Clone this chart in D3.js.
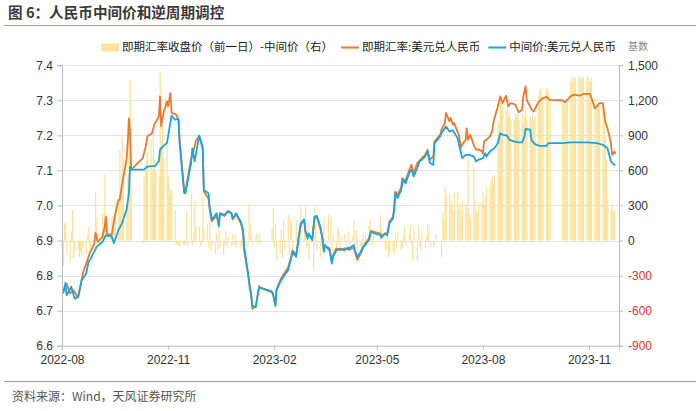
<!DOCTYPE html>
<html>
<head>
<meta charset="utf-8">
<script src="https://cdn.jsdelivr.net/npm/d3@7"></script>
<style>
  body { margin: 0; background: #fff; }
  svg { display: block; }
</style>
</head>
<body>
<svg id="chart" width="700" height="411"></svg>
<script>
(function () {
  'use strict';

  // spot close (previous day) minus fixing, pips, one row per week (Mon..Fri)
  var spreadWeeks = [
    ["2022-08-01", [-60, -220, 140, 160, -120]],
    ["2022-08-08", [-180, 80, 260, -150, -90]],
    ["2022-08-15", [-80, -140, -100, -130, -60]],
    ["2022-08-22", [-110, 40, 117, -100, -60]],
    ["2022-08-29", [30, 417, 200, 60, -40]],
    ["2022-09-05", [230, 120, 560, 110, 40]],
    ["2022-09-12", [60, 200, 210, 120, 340]],
    ["2022-09-19", [345, 775, 480, 890, 700]],
    ["2022-09-26", [330, 560, 1045, 1374, 480]],
    ["2022-10-10", [-30, 545, 600, 690, 760]],
    ["2022-10-17", [860, 600, 945, 690, 600]],
    ["2022-10-24", [545, 1445, 830, 975, 700]],
    ["2022-10-31", [830, 545, 460, 400, 430]],
    ["2022-11-07", [260, -30, -45, -35, -50]],
    ["2022-11-14", [-40, -30, -45, 260, -50]],
    ["2022-11-21", [400, -40, 60, 345, 120]],
    ["2022-11-28", [115, -50, -30, 380, 100]],
    ["2022-12-05", [140, -60, 230, -90, -40]],
    ["2022-12-12", [-110, 60, -80, 120, -60]],
    ["2022-12-19", [-120, -40, 80, -60, 30]],
    ["2022-12-26", [-50, 60, -40, 50, -60]],
    ["2023-01-02", [null, -70, -50, -80, 40]],
    ["2023-01-09", [-60, 320, 150, 60, -30]],
    ["2023-01-16", [40, 60, -30, 50, -20]],
    ["2023-01-30", [100, 275, -60, 150, -170]],
    ["2023-02-06", [-110, 90, -150, 175, -80]],
    ["2023-02-13", [220, -120, 180, 120, -140]],
    ["2023-02-20", [175, -90, 40, -120, 290]],
    ["2023-02-27", [180, 290, -60, 140, -170]],
    ["2023-03-06", [120, -255, 290, 200, -80]],
    ["2023-03-13", [-140, 90, -60, 200, -100]],
    ["2023-03-20", [220, -40, 200, -90, 60]],
    ["2023-03-27", [-60, 110, 80, -70, 40]],
    ["2023-04-03", [60, -40, null, 80, -30]],
    ["2023-04-10", [40, 175, -60, 90, -80]],
    ["2023-04-17", [-50, -90, 60, -30, 40]],
    ["2023-04-24", [130, 175, 60, -40, 90]],
    ["2023-05-01", [null, null, null, 215, 90]],
    ["2023-05-08", [-70, -90, 40, -140, -110]],
    ["2023-05-15", [-80, -120, 60, -60, 75]],
    ["2023-05-22", [-80, -60, 40, 120, -40]],
    ["2023-05-29", [60, 145, -30, -170, 100]],
    ["2023-06-05", [-170, 130, -60, -80, 60]],
    ["2023-06-12", [-70, 40, 145, 80, -60]],
    ["2023-06-19", [-60, -40, 60, null, null]],
    ["2023-06-26", [-140, 230, 170, 460, 400]],
    ["2023-07-03", [400, 300, 345, 260, 420]],
    ["2023-07-10", [420, 260, 300, 200, 340]],
    ["2023-07-17", [310, 280, 715, 230, 200]],
    ["2023-07-24", [630, 345, 260, 240, 310]],
    ["2023-07-31", [330, 420, 300, 360, 460]],
    ["2023-08-07", [460, 520, 545, 480, 560]],
    ["2023-08-14", [1030, 1000, 1231, 1200, 1150]],
    ["2023-08-21", [1100, 1146, 1060, 1100, 1031]],
    ["2023-08-28", [1031, 1088, 1060, 1100, 1050]],
    ["2023-09-04", [1090, 1003, 1060, 1120, 1030]],
    ["2023-09-11", [1060, 1031, 1088, 1031, 1060]],
    ["2023-09-18", [1231, 1280, 1303, 1250, 1231]],
    ["2023-09-25", [1303, 1290, 1260, 1231, null]],
    ["2023-10-09", [1174, 1160, 1190, 1174, 1200]],
    ["2023-10-16", [1360, 1380, 1400, 1370, 1390]],
    ["2023-10-23", [1403, 1390, 1400, 1380, 1400]],
    ["2023-10-30", [1390, 1403, 1380, 1360, 1390]],
    ["2023-11-06", [1188, 1170, 1160, 1180, 1175]],
    ["2023-11-13", [1160, 1020, 890, 690, 345]],
    ["2023-11-20", [260, 300, 240, 260, null]]
  ];

  // 即期汇率 (spot)
  var spot = [
    ["2022-08-02", 6.753], ["2022-08-05", 6.777], ["2022-08-08", 6.749], ["2022-08-11", 6.758],
    ["2022-08-15", 6.737], ["2022-08-17", 6.768], ["2022-08-19", 6.806], ["2022-08-22", 6.834],
    ["2022-08-25", 6.863], ["2022-08-29", 6.891], ["2022-08-30", 6.922], ["2022-09-01", 6.896],
    ["2022-09-05", 6.910], ["2022-09-07", 6.939], ["2022-09-08", 6.968], ["2022-09-09", 6.920],
    ["2022-09-13", 6.915], ["2022-09-16", 6.972], ["2022-09-19", 7.016], ["2022-09-20", 7.016],
    ["2022-09-23", 7.078], ["2022-09-26", 7.131], ["2022-09-27", 7.178], ["2022-09-28", 7.248],
    ["2022-09-29", 7.208], ["2022-09-30", 7.102], ["2022-10-10", 7.135], ["2022-10-13", 7.173],
    ["2022-10-14", 7.197], ["2022-10-18", 7.206], ["2022-10-20", 7.230], ["2022-10-24", 7.254],
    ["2022-10-25", 7.311], ["2022-10-26", 7.226], ["2022-10-28", 7.264], ["2022-10-31", 7.297],
    ["2022-11-01", 7.283], ["2022-11-03", 7.320], ["2022-11-04", 7.264], ["2022-11-08", 7.259],
    ["2022-11-10", 7.245], ["2022-11-11", 7.188], ["2022-11-15", 7.040], ["2022-11-16", 7.040],
    ["2022-11-21", 7.135], ["2022-11-23", 7.154], ["2022-11-25", 7.183], ["2022-11-28", 7.199],
    ["2022-12-01", 7.160], ["2022-12-02", 7.040], ["2022-12-06", 7.020], ["2022-12-07", 6.990],
    ["2022-12-09", 6.955], ["2022-12-13", 6.970], ["2022-12-15", 6.950], ["2022-12-16", 6.975],
    ["2022-12-20", 6.970], ["2022-12-23", 6.985], ["2022-12-26", 6.975], ["2022-12-27", 6.960],
    ["2022-12-30", 6.975], ["2023-01-03", 6.950], ["2023-01-05", 6.925], ["2023-01-06", 6.870],
    ["2023-01-09", 6.810], ["2023-01-11", 6.760], ["2023-01-12", 6.745], ["2023-01-13", 6.705],
    ["2023-01-16", 6.712], ["2023-01-18", 6.752], ["2023-01-19", 6.770], ["2023-01-20", 6.766],
    ["2023-01-30", 6.755], ["2023-01-31", 6.745], ["2023-02-02", 6.718], ["2023-02-03", 6.760],
    ["2023-02-07", 6.792], ["2023-02-10", 6.808], ["2023-02-13", 6.822], ["2023-02-16", 6.858],
    ["2023-02-17", 6.872], ["2023-02-20", 6.858], ["2023-02-22", 6.905], ["2023-02-24", 6.945],
    ["2023-02-27", 6.958], ["2023-02-28", 6.925], ["2023-03-02", 6.910], ["2023-03-03", 6.915],
    ["2023-03-06", 6.905], ["2023-03-08", 6.965], ["2023-03-10", 6.968], ["2023-03-13", 6.935],
    ["2023-03-15", 6.905], ["2023-03-16", 6.872], ["2023-03-17", 6.885], ["2023-03-21", 6.878],
    ["2023-03-23", 6.840], ["2023-03-24", 6.858], ["2023-03-27", 6.878], ["2023-03-30", 6.872],
    ["2023-04-03", 6.878], ["2023-04-06", 6.875], ["2023-04-07", 6.873], ["2023-04-11", 6.880],
    ["2023-04-12", 6.868], ["2023-04-14", 6.845], ["2023-04-17", 6.862], ["2023-04-19", 6.878],
    ["2023-04-21", 6.892], ["2023-04-24", 6.905], ["2023-04-26", 6.928], ["2023-04-28", 6.925],
    ["2023-05-04", 6.920], ["2023-05-05", 6.912], ["2023-05-08", 6.920], ["2023-05-10", 6.920],
    ["2023-05-12", 6.955], ["2023-05-15", 6.968], ["2023-05-16", 6.990], ["2023-05-17", 7.040],
    ["2023-05-18", 7.035], ["2023-05-19", 7.030], ["2023-05-22", 7.050], ["2023-05-23", 7.078],
    ["2023-05-26", 7.070], ["2023-05-29", 7.100], ["2023-05-31", 7.116], ["2023-06-02", 7.090],
    ["2023-06-05", 7.121], ["2023-06-07", 7.128], ["2023-06-09", 7.135], ["2023-06-12", 7.145],
    ["2023-06-14", 7.159], ["2023-06-16", 7.130], ["2023-06-19", 7.140], ["2023-06-20", 7.183],
    ["2023-06-25", 7.202], ["2023-06-26", 7.216], ["2023-06-29", 7.235], ["2023-06-30", 7.264],
    ["2023-07-03", 7.240], ["2023-07-04", 7.250], ["2023-07-06", 7.230], ["2023-07-07", 7.235],
    ["2023-07-11", 7.202], ["2023-07-13", 7.166], ["2023-07-14", 7.173], ["2023-07-17", 7.187],
    ["2023-07-18", 7.220], ["2023-07-19", 7.187], ["2023-07-21", 7.202], ["2023-07-24", 7.173],
    ["2023-07-26", 7.159], ["2023-07-28", 7.160], ["2023-07-31", 7.155], ["2023-08-01", 7.148],
    ["2023-08-02", 7.183], ["2023-08-04", 7.187], ["2023-08-07", 7.197], ["2023-08-09", 7.211],
    ["2023-08-10", 7.235], ["2023-08-11", 7.249], ["2023-08-14", 7.283], ["2023-08-16", 7.311],
    ["2023-08-18", 7.292], ["2023-08-21", 7.313], ["2023-08-23", 7.283], ["2023-08-25", 7.292],
    ["2023-08-29", 7.288], ["2023-09-01", 7.266], ["2023-09-04", 7.273], ["2023-09-05", 7.311],
    ["2023-09-07", 7.340], ["2023-09-08", 7.301], ["2023-09-12", 7.275], ["2023-09-14", 7.268],
    ["2023-09-18", 7.294], ["2023-09-21", 7.304], ["2023-09-25", 7.310], ["2023-09-28", 7.301],
    ["2023-10-09", 7.300], ["2023-10-11", 7.294], ["2023-10-16", 7.311], ["2023-10-19", 7.316],
    ["2023-10-24", 7.313], ["2023-10-27", 7.318], ["2023-11-02", 7.318], ["2023-11-06", 7.277],
    ["2023-11-08", 7.283], ["2023-11-10", 7.292], ["2023-11-13", 7.292], ["2023-11-15", 7.240],
    ["2023-11-17", 7.220], ["2023-11-20", 7.178], ["2023-11-21", 7.144], ["2023-11-23", 7.154],
    ["2023-11-24", 7.147]
  ];

  // 中间价 (central parity)
  var mid = [
    ["2022-08-02", 6.749], ["2022-08-04", 6.779], ["2022-08-05", 6.744], ["2022-08-09", 6.768],
    ["2022-08-12", 6.734], ["2022-08-15", 6.741], ["2022-08-18", 6.787], ["2022-08-22", 6.806],
    ["2022-08-24", 6.839], ["2022-08-26", 6.849], ["2022-08-31", 6.882], ["2022-09-05", 6.896],
    ["2022-09-08", 6.915], ["2022-09-13", 6.912], ["2022-09-15", 6.893], ["2022-09-19", 6.930],
    ["2022-09-22", 6.949], ["2022-09-26", 6.988], ["2022-09-28", 7.035], ["2022-09-29", 7.111],
    ["2022-09-30", 7.102], ["2022-10-11", 7.102], ["2022-10-14", 7.111], ["2022-10-21", 7.113],
    ["2022-10-24", 7.126], ["2022-10-25", 7.159], ["2022-10-28", 7.170], ["2022-10-31", 7.178],
    ["2022-11-04", 7.256], ["2022-11-07", 7.245], ["2022-11-10", 7.247], ["2022-11-11", 7.178],
    ["2022-11-15", 7.035], ["2022-11-16", 7.035], ["2022-11-21", 7.121], ["2022-11-22", 7.163],
    ["2022-11-24", 7.126], ["2022-11-28", 7.199], ["2022-12-01", 7.168], ["2022-12-02", 7.044],
    ["2022-12-06", 7.035], ["2022-12-07", 6.997], ["2022-12-09", 6.959], ["2022-12-13", 6.978],
    ["2022-12-15", 6.940], ["2022-12-16", 6.978], ["2022-12-20", 6.973], ["2022-12-23", 6.983],
    ["2022-12-26", 6.978], ["2022-12-27", 6.963], ["2022-12-30", 6.978], ["2023-01-03", 6.954],
    ["2023-01-05", 6.930], ["2023-01-06", 6.882], ["2023-01-09", 6.815], ["2023-01-11", 6.768],
    ["2023-01-12", 6.749], ["2023-01-13", 6.715], ["2023-01-16", 6.710], ["2023-01-18", 6.749],
    ["2023-01-19", 6.768], ["2023-01-20", 6.765], ["2023-01-30", 6.753], ["2023-01-31", 6.749],
    ["2023-02-02", 6.713], ["2023-02-03", 6.758], ["2023-02-07", 6.787], ["2023-02-10", 6.801],
    ["2023-02-13", 6.815], ["2023-02-16", 6.853], ["2023-02-17", 6.868], ["2023-02-20", 6.853],
    ["2023-02-22", 6.901], ["2023-02-24", 6.949], ["2023-02-27", 6.960], ["2023-02-28", 6.930],
    ["2023-03-02", 6.906], ["2023-03-03", 6.920], ["2023-03-06", 6.901], ["2023-03-08", 6.968],
    ["2023-03-10", 6.970], ["2023-03-13", 6.940], ["2023-03-15", 6.901], ["2023-03-16", 6.868],
    ["2023-03-17", 6.887], ["2023-03-21", 6.872], ["2023-03-23", 6.834], ["2023-03-24", 6.853],
    ["2023-03-27", 6.872], ["2023-03-30", 6.877], ["2023-04-03", 6.872], ["2023-04-06", 6.880],
    ["2023-04-07", 6.877], ["2023-04-11", 6.887], ["2023-04-12", 6.872], ["2023-04-14", 6.853],
    ["2023-04-17", 6.868], ["2023-04-19", 6.882], ["2023-04-21", 6.887], ["2023-04-24", 6.901],
    ["2023-04-26", 6.925], ["2023-04-28", 6.922], ["2023-05-04", 6.915], ["2023-05-05", 6.908],
    ["2023-05-08", 6.920], ["2023-05-10", 6.915], ["2023-05-12", 6.949], ["2023-05-15", 6.963],
    ["2023-05-16", 6.987], ["2023-05-17", 7.035], ["2023-05-18", 7.030], ["2023-05-19", 7.021],
    ["2023-05-22", 7.044], ["2023-05-24", 7.073], ["2023-05-26", 7.063], ["2023-05-29", 7.092],
    ["2023-05-31", 7.102], ["2023-06-02", 7.083], ["2023-06-05", 7.106], ["2023-06-07", 7.125],
    ["2023-06-09", 7.130], ["2023-06-12", 7.140], ["2023-06-14", 7.154], ["2023-06-16", 7.121],
    ["2023-06-19", 7.116], ["2023-06-20", 7.178], ["2023-06-25", 7.197], ["2023-06-26", 7.206],
    ["2023-06-28", 7.216], ["2023-06-30", 7.225], ["2023-07-03", 7.211], ["2023-07-06", 7.214],
    ["2023-07-10", 7.192], ["2023-07-12", 7.163], ["2023-07-14", 7.135], ["2023-07-17", 7.144],
    ["2023-07-20", 7.144], ["2023-07-24", 7.140], ["2023-07-26", 7.126], ["2023-07-28", 7.130],
    ["2023-08-01", 7.135], ["2023-08-03", 7.149], ["2023-08-04", 7.140], ["2023-08-07", 7.154],
    ["2023-08-09", 7.159], ["2023-08-11", 7.163], ["2023-08-14", 7.178], ["2023-08-16", 7.206],
    ["2023-08-18", 7.202], ["2023-08-22", 7.199], ["2023-08-24", 7.187], ["2023-08-28", 7.183],
    ["2023-09-01", 7.180], ["2023-09-04", 7.180], ["2023-09-06", 7.197], ["2023-09-07", 7.218],
    ["2023-09-11", 7.216], ["2023-09-12", 7.187], ["2023-09-15", 7.175], ["2023-09-19", 7.170],
    ["2023-09-25", 7.170], ["2023-09-27", 7.178], ["2023-10-09", 7.178], ["2023-10-16", 7.180],
    ["2023-10-23", 7.180], ["2023-10-30", 7.180], ["2023-11-08", 7.178], ["2023-11-13", 7.173],
    ["2023-11-17", 7.163], ["2023-11-20", 7.126], ["2023-11-23", 7.116], ["2023-11-24", 7.116]
  ];

  var leftTicks = [6.6, 6.7, 6.8, 6.9, 7.0, 7.1, 7.2, 7.3, 7.4];
  var rightTicks = [-900, -600, -300, 0, 300, 600, 900, 1200, 1500];
  var monthTicks = ["2022-08-01", "2022-11-01", "2023-02-01", "2023-05-01", "2023-08-01", "2023-11-01"];
  var seriesNames = ["即期汇率收盘价（前一日）-中间价（右）", "即期汇率:美元兑人民币", "中间价:美元兑人民币"];

  var parse = d3.timeParse("%Y-%m-%d");
  var numFont = "'Liberation Sans', Arial, 'Noto Sans CJK SC', sans-serif";
  var cjkFont = "'Noto Sans CJK SC', 'Liberation Sans', sans-serif";
  var colors = { bar: "#FCE29A", spot: "#EB7A2E", mid: "#1AA5DE", accent: "#F08C3A" };

  var left = 62, right = 619, top = 65.2, bottom = 345.7;

  var svg = d3.select('#chart');

  var x = d3.scaleTime()
      .domain([parse("2022-08-01"), parse("2023-11-27")])
      .range([left, right]);
  var yL = d3.scaleLinear().domain([6.6, 7.4]).range([bottom, top]);
  var yR = d3.scaleLinear().domain([-900, 1500]).range([bottom, top]);

  // title + rules
  svg.append('text')
      .attr('x', 8).attr('y', 18)
      .style('font-family', cjkFont).style('font-size', '14.6px').style('font-weight', 'bold')
      .style('fill', '#3a3a3a')
      .text('图 6：人民币中间价和逆周期调控');
  svg.append('line').attr('x1', 4).attr('x2', 696).attr('y1', 25.5).attr('y2', 25.5)
      .style('stroke', colors.accent).style('stroke-width', 1.2);
  svg.append('line').attr('x1', 4).attr('x2', 696).attr('y1', 381.5).attr('y2', 381.5)
      .style('stroke', colors.accent).style('stroke-width', 1.2);
  svg.append('text')
      .attr('x', 12).attr('y', 401)
      .style('font-family', cjkFont).style('font-size', '12px').style('fill', '#555')
      .text('资料来源：Wind，天风证券研究所');

  // gridlines
  svg.append('g').selectAll('line')
      .data(leftTicks.slice(1))
      .enter().append('line')
      .attr('x1', left).attr('x2', right)
      .attr('y1', function (d) { return Math.round(yL(d)) + 0.5; })
      .attr('y2', function (d) { return Math.round(yL(d)) + 0.5; })
      .style('stroke', '#e3e3e3').style('stroke-width', 1);

  // bars: one per trading day
  var bars = [];
  spreadWeeks.forEach(function (w) {
    var monday = parse(w[0]);
    w[1].forEach(function (v, i) {
      if (v === null) return;
      bars.push({ date: d3.timeDay.offset(monday, i), value: v });
    });
  });

  svg.append('g').selectAll('rect')
      .data(bars)
      .enter().append('rect')
      .attr('x', function (d) { return x(d.date) - 0.4; })
      .attr('width', function (d) { return x(d3.timeDay.offset(d.date, 1)) - x(d.date) + 0.05; })
      .attr('y', function (d) { return Math.min(yR(d.value), yR(0)); })
      .attr('height', function (d) { return Math.abs(yR(d.value) - yR(0)); })
      .style('fill', colors.bar);

  // lines
  var line = d3.line()
      .x(function (d) { return x(parse(d[0])); })
      .y(function (d) { return yL(d[1]); });

  svg.append('path').datum(spot).attr('d', line)
      .style('fill', 'none').style('stroke', colors.spot).style('stroke-width', 1.8)
      .style('stroke-linejoin', 'round');
  svg.append('path').datum(mid).attr('d', line)
      .style('fill', 'none').style('stroke', colors.mid).style('stroke-width', 1.8)
      .style('stroke-linejoin', 'round');

  // axes
  function styleAxis(g) {
    g.select('.domain').style('stroke', '#bdbdbd');
    g.selectAll('.tick line').style('stroke', '#bdbdbd');
    g.selectAll('.tick text').style('font-family', numFont).style('font-size', '12px').style('fill', '#333');
  }

  svg.append('g')
      .attr('transform', 'translate(' + left + ',0)')
      .call(d3.axisLeft(yL).tickValues(leftTicks).tickFormat(d3.format('.1f')).tickSizeOuter(0).tickSize(5).tickPadding(4))
      .call(styleAxis);

  var rAxis = svg.append('g')
      .attr('transform', 'translate(' + right + ',0)')
      .call(d3.axisRight(yR).tickValues(rightTicks).tickFormat(d3.format(',')).tickSizeOuter(0).tickSize(4).tickPadding(5))
      .call(styleAxis);
  rAxis.selectAll('.tick text')
      .style('fill', function (d) { return d < 0 ? '#e8322b' : '#333'; })
      .text(function (d) { return d < 0 ? '-' + d3.format(',')(-d) : d3.format(',')(d); });

  svg.append('g')
      .attr('transform', 'translate(0,' + bottom + ')')
      .call(d3.axisBottom(x).tickValues(monthTicks.map(parse)).tickFormat(d3.timeFormat('%Y-%m')).tickSizeOuter(0).tickSize(4).tickPadding(6))
      .call(styleAxis);

  svg.append('text')
      .attr('x', 628).attr('y', 50)
      .style('font-family', cjkFont).style('font-size', '10px').style('fill', '#888')
      .text('基数');

  // legend, laid out right to left
  var legend = svg.append('g').attr('transform', 'translate(0,47)');
  var cursor = 616;
  var kinds = ['bar', 'spot', 'mid'];
  for (var i = seriesNames.length - 1; i >= 0; i--) {
    var t = legend.append('text')
        .attr('y', 4)
        .style('font-family', cjkFont).style('font-size', '11.5px').style('fill', '#1a1a1a')
        .text(seriesNames[i]);
    var w = t.node().getComputedTextLength();
    t.attr('x', cursor - w);
    var sx = cursor - w - 3 - 18;
    if (kinds[i] === 'bar') {
      legend.append('rect').attr('x', sx).attr('y', -3.5).attr('width', 18).attr('height', 8)
          .style('fill', colors.bar);
    } else {
      legend.append('line').attr('x1', sx).attr('x2', sx + 18).attr('y1', 0.5).attr('y2', 0.5)
          .style('stroke', colors[kinds[i]]).style('stroke-width', 2);
    }
    cursor = sx - 8;
  }
} ());
</script>
</body>
</html>
